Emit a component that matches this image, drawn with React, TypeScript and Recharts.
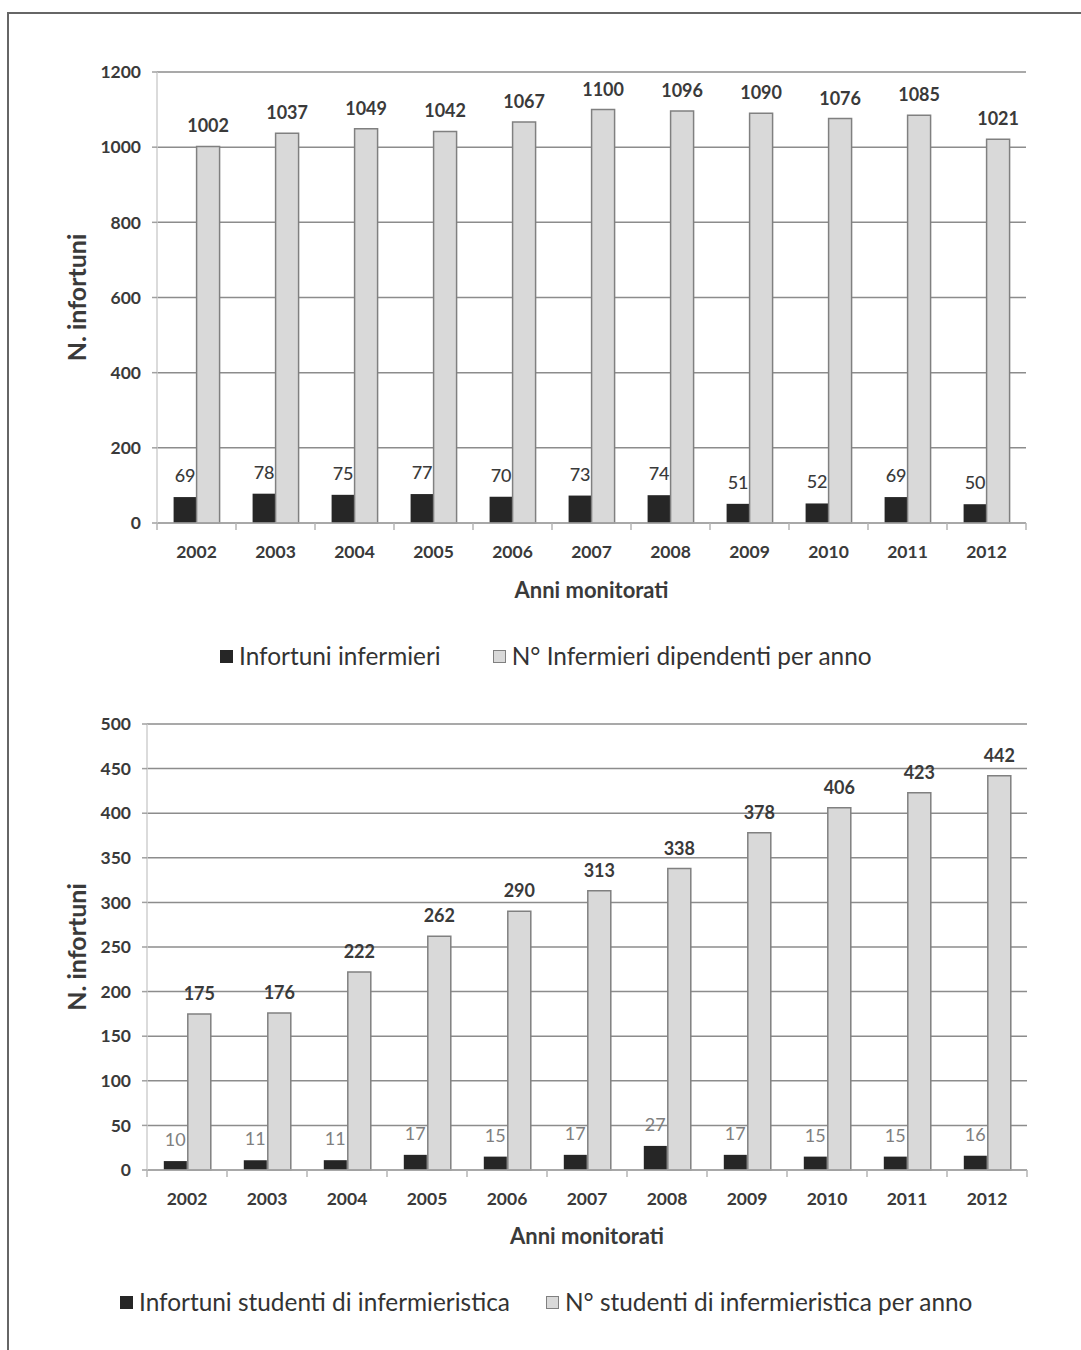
import React from 'react';
import { BarChart, Bar, XAxis, YAxis, CartesianGrid, LabelList } from 'recharts';

const years = ['2002', '2003', '2004', '2005', '2006', '2007', '2008', '2009', '2010', '2011', '2012'];

// grafico 1: infermieri
const infortuniInfermieri = [69, 78, 75, 77, 70, 73, 74, 51, 52, 69, 50];
const infermieriDipendenti = [1002, 1037, 1049, 1042, 1067, 1100, 1096, 1090, 1076, 1085, 1021];
const ticksInfermieri = [0, 200, 400, 600, 800, 1000, 1200];

// grafico 2: studenti
const infortuniStudenti = [10, 11, 11, 17, 15, 17, 27, 17, 15, 15, 16];
const studentiPerAnno = [175, 176, 222, 262, 290, 313, 338, 378, 406, 423, 442];
const ticksStudenti = [0, 50, 100, 150, 200, 250, 300, 350, 400, 450, 500];

const FONT = 'Lato, "Open Sans", sans-serif';
const DARK = '#262626';
const LIGHT = '#d9d9d9';
const TEXT = '#3a3a3a';

function YearTick(props: any) {
  const { x, y, payload } = props;
  const half = payload.offset ?? 40;
  const last = payload.value === years[years.length - 1];
  return (
    <g>
      <line x1={x - half} x2={x - half} y1={y} y2={y + 7} stroke="#b5b5b5" strokeWidth={1.5} />
      {last && <line x1={x + half} x2={x + half} y1={y} y2={y + 7} stroke="#b5b5b5" strokeWidth={1.5} />}
      <text x={x} y={y + 35} textAnchor="middle" fill={TEXT} fontSize={17.5} fontWeight={700} fontFamily={FONT}>
        {payload.value}
      </text>
    </g>
  );
}

function YTitle({ viewBox }: any) {
  const cx = viewBox.x + 17;
  const cy = viewBox.y + viewBox.height / 2;
  return (
    <text x={cx} y={cy} transform={`rotate(-90, ${cx}, ${cy})`} textAnchor="middle" dy="0.36em"
      fill={TEXT} fontSize={25} fontWeight={700} fontFamily={FONT}>
      N. infortuni
    </text>
  );
}

interface PanelProps {
  black: number[];
  gray: number[];
  ticks: number[];
  width: number;
  height: number;
  marginTop: number;
  marginRight: number;
  yWidth: number;
  xHeight: number;
  titleBaseline: number;
  blackLabelColor: string;
  blackLabelWeight: number;
  barGap: number;
}

function Panel(p: PanelProps) {
  const data = years.map((year, i) => ({ year, black: p.black[i], gray: p.gray[i] }));
  return (
    <BarChart
      width={p.width}
      height={p.height}
      data={data}
      margin={{ top: p.marginTop, right: p.marginRight, left: 60, bottom: 0 }}
      barCategoryGap="21%"
      barGap={p.barGap}
    >
      <CartesianGrid vertical={false} stroke="#8c8c8c" strokeWidth={1.5} />
      <XAxis
        dataKey="year"
        height={p.xHeight}
        tickSize={0}
        tickMargin={0}
        tickLine={false}
        axisLine={{ stroke: '#a8a8a8', strokeWidth: 1.5 }}
        interval={0}
        tick={<YearTick />}
        label={{
          value: 'Anni monitorati',
          position: 'insideBottom',
          offset: p.titleBaseline,
          fill: TEXT,
          fontSize: 22,
          fontWeight: 700,
          fontFamily: FONT,
        }}
      />
      <YAxis
        width={p.yWidth}
        domain={[0, p.ticks[p.ticks.length - 1]]}
        ticks={p.ticks}
        interval={0}
        tickSize={5}
        tickMargin={11}
        axisLine={{ stroke: '#cfcfcf', strokeWidth: 1.5 }}
        tickLine={{ stroke: '#a0a0a0', strokeWidth: 1.5 }}
        tick={{ fill: TEXT, fontSize: 17.5, fontWeight: 700, fontFamily: FONT }}
        label={{ content: <YTitle /> }}
      />
      <Bar dataKey="black" name="black" fill={DARK} isAnimationActive={false}>
        <LabelList
          dataKey="black"
          position="top"
          offset={15}
          fill={p.blackLabelColor}
          fontSize={18}
          fontWeight={p.blackLabelWeight}
          fontFamily={FONT}
        />
      </Bar>
      <Bar dataKey="gray" name="gray" fill={LIGHT} stroke="#808080" strokeWidth={1.5} isAnimationActive={false}>
        <LabelList
          dataKey="gray"
          position="top"
          offset={14}
          fill={TEXT}
          fontSize={18}
          fontWeight={700}
          fontFamily={FONT}
        />
      </Bar>
    </BarChart>
  );
}

function LegendRow({ left, top, first, second, gap }: { left: number; top: number; first: string; second: string; gap: number }) {
  const item = (color: string, border: string, label: string) => (
    <div style={{ display: 'flex', alignItems: 'center' }}>
      <span style={{ width: 13, height: 13, background: color, border: `1.5px solid ${border}`, boxSizing: 'border-box', marginRight: 6 }} />
      <span>{label}</span>
    </div>
  );
  return (
    <div
      style={{
        position: 'absolute', left, top, display: 'flex', gap,
        fontFamily: FONT, fontSize: 24.4, color: '#333', lineHeight: '30px', whiteSpace: 'nowrap',
      }}
    >
      {item(DARK, DARK, first)}
      {item(LIGHT, '#808080', second)}
    </div>
  );
}

export default function App() {
  return (
    <div style={{ position: 'absolute', left: 0, top: 0, width: 1081, height: 1350, background: '#fff', overflow: 'hidden' }}>
      <div style={{ position: 'absolute', left: 7, top: 12, width: 1080, height: 1340, borderLeft: '2px solid #666', borderTop: '2px solid #666' }} />

      <div style={{ position: 'absolute', left: 0, top: 0 }}>
        <Panel
          black={infortuniInfermieri}
          gray={infermieriDipendenti}
          ticks={ticksInfermieri}
          width={1081}
          height={620}
          marginTop={72}
          marginRight={55}
          yWidth={97}
          xHeight={97}
          titleBaseline={22}
          blackLabelColor={TEXT}
          blackLabelWeight={500}
          barGap={0}
        />
      </div>
      <LegendRow left={220} top={641} first="Infortuni infermieri" second="N° Infermieri dipendenti per anno" gap={52} />

      <div style={{ position: 'absolute', left: 0, top: 660 }}>
        <Panel
          black={infortuniStudenti}
          gray={studentiPerAnno}
          ticks={ticksStudenti}
          width={1081}
          height={600}
          marginTop={64}
          marginRight={54}
          yWidth={87}
          xHeight={90}
          titleBaseline={16}
          blackLabelColor="#808080"
          blackLabelWeight={400}
          barGap={1}
        />
      </div>
      <LegendRow left={120} top={1287} first="Infortuni studenti di infermieristica" second="N° studenti di infermieristica per anno" gap={36} />
    </div>
  );
}
